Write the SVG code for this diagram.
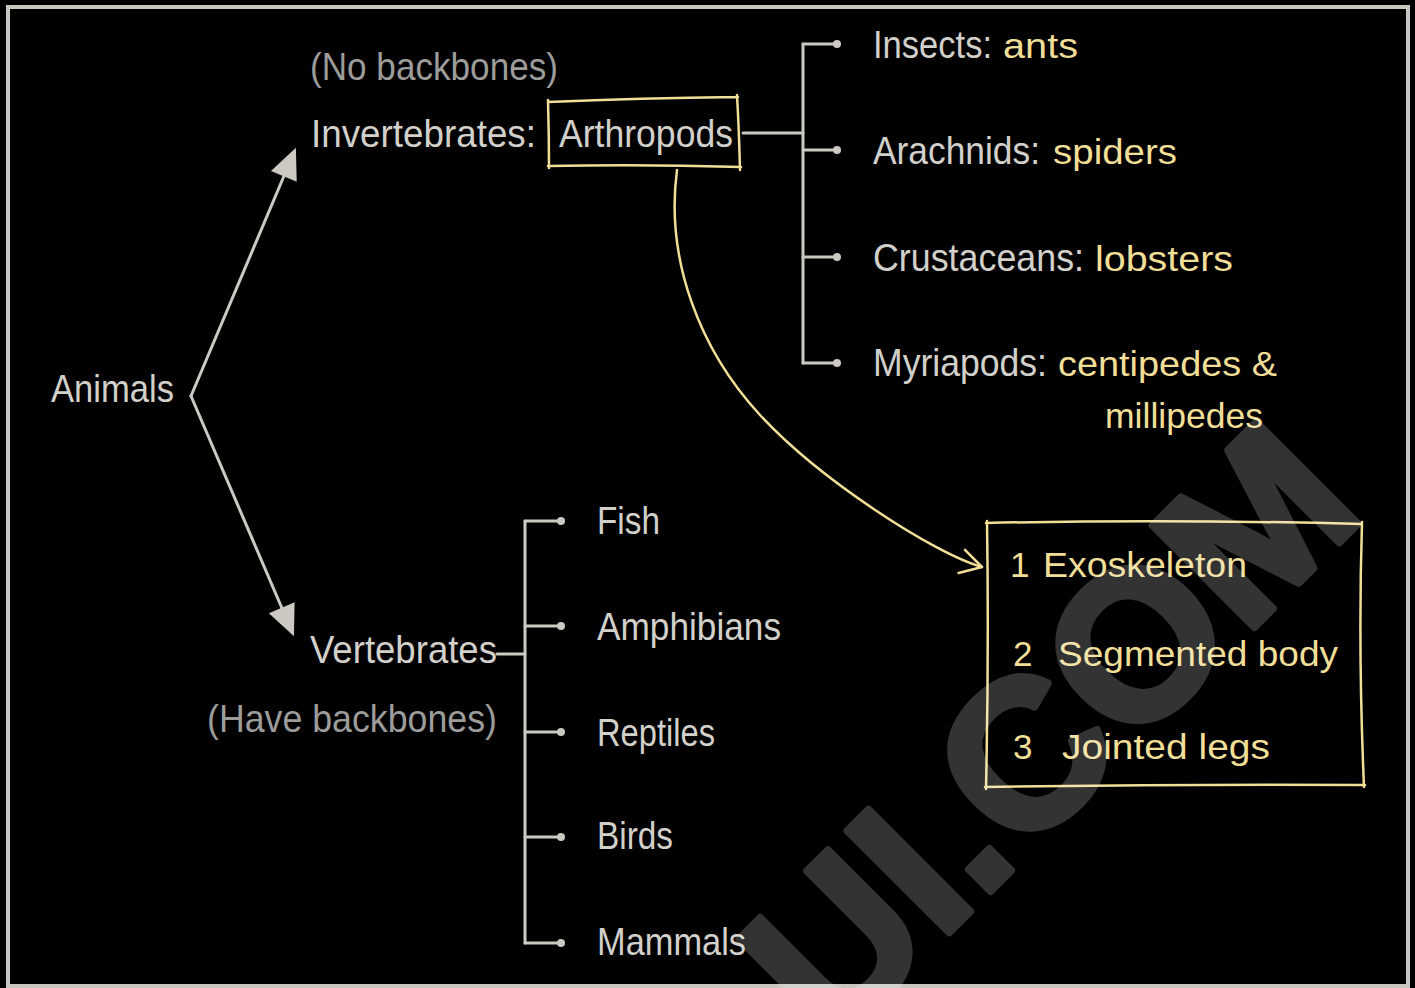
<svg xmlns="http://www.w3.org/2000/svg" width="1415" height="988" viewBox="0 0 1415 988">
<style>
.g{font-family:"Liberation Sans",Arial,sans-serif;font-size:39px;fill:#d2d0ca}
.m{font-family:"Liberation Sans",Arial,sans-serif;font-size:39px;fill:#9c9c9a}
.y{font-family:"Liberation Sans",Arial,sans-serif;font-size:35px;fill:#f1de97}
.ln{stroke:#cbc9c2;stroke-width:3;fill:none;stroke-linecap:round}
.yl{stroke:#f1de97;stroke-width:2.5;fill:none;stroke-linecap:round;stroke-linejoin:round}
.dot{fill:#cbc9c2}
</style>
<defs>
<marker id="tri" markerUnits="userSpaceOnUse" viewBox="-22 -15 33 30" markerWidth="33" markerHeight="30" refX="0" refY="0" orient="auto">
<path d="M10,0 L-21,-14 L-21,14 Z" fill="#cbc9c2"/>
</marker>
<marker id="chev" markerUnits="userSpaceOnUse" viewBox="-24 -14 27 28" markerWidth="27" markerHeight="28" refX="0" refY="0" orient="auto">
<path d="M-21,-12 L0,0 L-21,12" fill="none" stroke="#f1de97" stroke-width="2.5" stroke-linecap="round" stroke-linejoin="round"/>
</marker>
</defs>
<rect x="0" y="0" width="1415" height="988" fill="#000"/>
<rect x="8" y="7" width="1400" height="979" fill="none" stroke="#c8c6bf" stroke-width="4"/>

<g id="connectors">
<path class="ln" d="M191,396 L292,157" marker-end="url(#tri)"/>
<path class="ln" d="M191,396 L290,627" marker-end="url(#tri)"/>
<path class="ln" d="M743,133 L803,133"/>
<path class="ln" d="M803,44 L803,363"/>
<path class="ln" d="M803,44 L836,44 M803,150 L836,150 M803,257 L836,257 M803,363 L836,363"/>
<circle class="dot" cx="837" cy="44" r="4"/><circle class="dot" cx="837" cy="150" r="4"/><circle class="dot" cx="837" cy="257" r="4"/><circle class="dot" cx="837" cy="363" r="4"/>
<path class="ln" d="M497,654 L525,654"/>
<path class="ln" d="M525,521 L525,943"/>
<path class="ln" d="M525,521 L560,521 M525,626 L560,626 M525,732 L560,732 M525,837 L560,837 M525,943 L560,943"/>
<circle class="dot" cx="561" cy="521" r="4"/><circle class="dot" cx="561" cy="626" r="4"/><circle class="dot" cx="561" cy="732" r="4"/><circle class="dot" cx="561" cy="837" r="4"/><circle class="dot" cx="561" cy="943" r="4"/>
<path class="yl" d="M677,170 C665,260 700,350 760,415 C820,480 935,554 982,567" marker-end="url(#chev)"/>
</g>

<g id="animals"><text class="g" x="51" y="402" textLength="123" lengthAdjust="spacingAndGlyphs">Animals</text></g>

<g id="invertebrates">
<text class="m" x="310" y="80" textLength="248" lengthAdjust="spacingAndGlyphs">(No backbones)</text>
<text class="g" x="311" y="147" textLength="225" lengthAdjust="spacingAndGlyphs">Invertebrates:</text>
</g>

<g id="arthropods">
<path class="yl" d="M548,102 Q640,98 738,97 M737,95 Q739,130 740,170 M741,167 Q645,164 548,166 M549,168 Q549,135 548,100"/>
<text class="g" x="559" y="147" textLength="174" lengthAdjust="spacingAndGlyphs">Arthropods</text>
</g>

<g id="insects">
<text class="g" x="873" y="58" textLength="119" lengthAdjust="spacingAndGlyphs">Insects:</text>
<text class="y" x="1003" y="58" textLength="75" lengthAdjust="spacingAndGlyphs">ants</text>
</g>
<g id="arachnids">
<text class="g" x="873" y="164" textLength="167" lengthAdjust="spacingAndGlyphs">Arachnids:</text>
<text class="y" x="1053" y="164" textLength="124" lengthAdjust="spacingAndGlyphs">spiders</text>
</g>
<g id="crustaceans">
<text class="g" x="873" y="271" textLength="211" lengthAdjust="spacingAndGlyphs">Crustaceans:</text>
<text class="y" x="1095" y="271" textLength="138" lengthAdjust="spacingAndGlyphs">lobsters</text>
</g>
<g id="myriapods">
<text class="g" x="873" y="376" textLength="174" lengthAdjust="spacingAndGlyphs">Myriapods:</text>
<text class="y" x="1058" y="376" textLength="219" lengthAdjust="spacingAndGlyphs">centipedes &amp;</text>
<text class="y" x="1105" y="428" textLength="158" lengthAdjust="spacingAndGlyphs">millipedes</text>
</g>

<g id="vertebrates">
<text class="g" x="310" y="663" textLength="187" lengthAdjust="spacingAndGlyphs">Vertebrates</text>
<text class="m" x="207" y="732" textLength="290" lengthAdjust="spacingAndGlyphs">(Have backbones)</text>
</g>
<g id="fish"><text class="g" x="597" y="534" textLength="63" lengthAdjust="spacingAndGlyphs">Fish</text></g>
<g id="amphibians"><text class="g" x="597" y="640" textLength="184" lengthAdjust="spacingAndGlyphs">Amphibians</text></g>
<g id="reptiles"><text class="g" x="597" y="746" textLength="118" lengthAdjust="spacingAndGlyphs">Reptiles</text></g>
<g id="birds"><text class="g" x="597" y="849" textLength="76" lengthAdjust="spacingAndGlyphs">Birds</text></g>
<g id="mammals"><text class="g" x="597" y="955" textLength="149" lengthAdjust="spacingAndGlyphs">Mammals</text></g>

<g id="features">
<path class="yl" d="M986,523 Q1170,519 1362,524 M1362,522 Q1358,650 1364,787 M1365,785 Q1175,784 985,787 M986,789 Q989,650 987,521"/>
<text class="y" x="1010" y="577">1</text>
<text class="y" x="1043" y="577" textLength="204" lengthAdjust="spacingAndGlyphs">Exoskeleton</text>
<text class="y" x="1013" y="666">2</text>
<text class="y" x="1058" y="666" textLength="280" lengthAdjust="spacingAndGlyphs">Segmented body</text>
<text class="y" x="1013" y="759">3</text>
<text class="y" x="1062" y="759" textLength="208" lengthAdjust="spacingAndGlyphs">Jointed legs</text>
</g>

<g id="watermark" opacity="0.2">
<text x="832" y="1050" transform="rotate(-45 832 1050)" font-family="Liberation Sans, Arial, sans-serif" font-weight="bold" font-size="210" fill="#ffffff" stroke="#ffffff" stroke-width="7" stroke-linejoin="round">UI.COM</text>
</g>
</svg>
